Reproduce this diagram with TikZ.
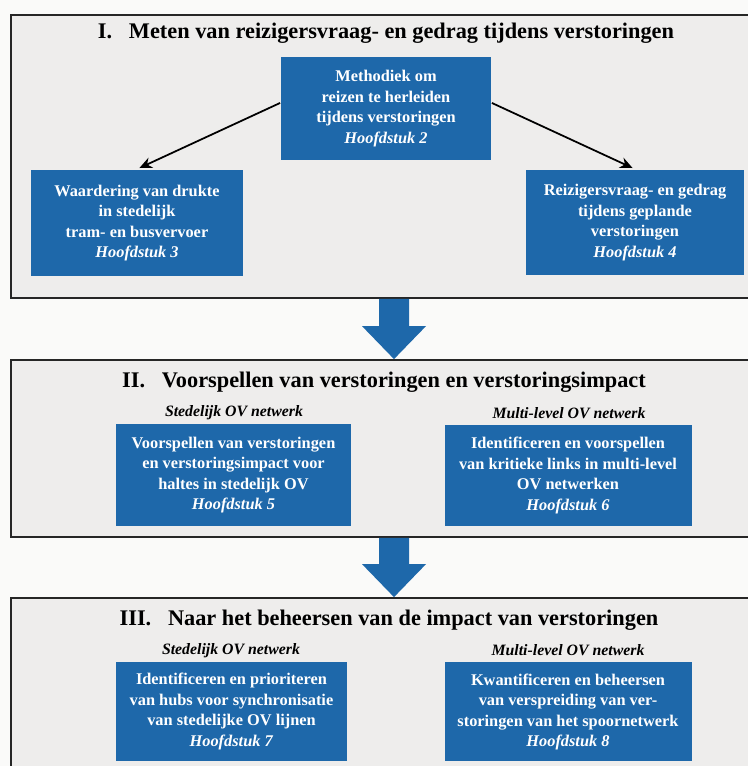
\documentclass[tikz,border=0pt]{standalone}
\usepackage{fontspec}
\setmainfont{Liberation Serif}
\usepackage{tikz}
\usetikzlibrary{positioning,arrows.meta}
\definecolor{ovblauw}{RGB}{30,104,170}
\definecolor{paneelgrijs}{RGB}{238,237,236}
\definecolor{achtergrond}{RGB}{250,250,249}

\begin{document}
\begin{tikzpicture}[line width=1pt, >={Stealth[length=2.5mm,width=2.2mm]},
        paneel/.style={draw=black!85, line width=1pt, fill=paneelgrijs, minimum width=15.32cm},
        hoofdstuk/.style={fill=ovblauw, text=white, align=center, inner sep=0pt, font=\bfseries\fontsize{9.3}{11.7}\selectfont},
        titel/.style={font=\bfseries\fontsize{12.7}{15}\selectfont},
        netwerk/.style={font=\bfseries\itshape\fontsize{9}{11}\selectfont}]
        % Uitsnede en achtergrond
        \useasboundingbox (0,0) rectangle (14.96,15.32);
        \clip (0,0) rectangle (14.96,15.32);
        \fill[achtergrond] (0,0) rectangle (14.96,15.32);

        % Panelen
        \node[paneel, minimum height=5.66cm] (p1) at (7.88,12.19) {};
        \node[paneel, minimum height=3.54cm] (p2) at (7.88,6.35) {};
        \node[paneel, minimum height=3.96cm] (p3) at (7.88,1.38) {};

        % Blokpijlen tussen de panelen
        \foreach \van/\naar in {p1/p2, p2/p3} {
            \fill[ovblauw] ([xshift=-0.3cm]\van.south) |- ([xshift=-0.64cm,yshift=0.66cm]\naar.north)
                -- (\naar.north) -- ([xshift=0.64cm,yshift=0.66cm]\naar.north)
                -| ([xshift=0.3cm]\van.south) -- cycle;
        }

        % I. Meten
        \node[titel] (t1) at (7.72,14.66) {I.\hspace{0.75em}Meten van reizigersvraag- en gedrag tijdens verstoringen};
        \node[hoofdstuk, minimum width=4.2cm, minimum height=2.06cm] (h2) at (7.72,13.15)
            {Methodiek om\\reizen te herleiden\\tijdens verstoringen\\\textit{Hoofdstuk 2}};
        \node[hoofdstuk, minimum width=4.24cm, minimum height=2.12cm] (h3) at (2.74,10.86)
            {Waardering van drukte\\in stedelijk\\tram- en busvervoer\\\textit{Hoofdstuk 3}};
        \node[hoofdstuk, minimum width=4.36cm, minimum height=2.1cm] (h4) at (12.7,10.87)
            {Reizigersvraag- en gedrag\\tijdens geplande\\verstoringen\\\textit{Hoofdstuk 4}};
        \draw[->, shorten >=1.5pt] (h2.177) -- (h3.north);
        \draw[->, shorten >=1.5pt] (h2.3) -- (h4.north);

        % II. Voorspellen
        \node[titel] (t2) at (7.68,7.68) {II.\hspace{0.75em}Voorspellen van verstoringen en verstoringsimpact};
        \node[netwerk] (n2a) at (4.68,7.06) {Stedelijk OV netwerk};
        \node[netwerk] (n2b) at (11.38,7.06) {Multi-level OV netwerk};
        \node[hoofdstuk, minimum width=4.7cm, minimum height=2.04cm] (h5) at (4.67,5.82)
            {Voorspellen van verstoringen\\en verstoringsimpact voor\\haltes in stedelijk OV\\\textit{Hoofdstuk 5}};
        \node[hoofdstuk, minimum width=4.94cm, minimum height=2.02cm] (h6) at (11.36,5.81)
            {Identificeren en voorspellen\\van kritieke links in multi-level\\OV netwerken\\\textit{Hoofdstuk 6}};

        % III. Beheersen
        \node[titel] (t3) at (7.78,2.92) {III.\hspace{0.75em}Naar het beheersen van de impact van verstoringen};
        \node[netwerk] (n3a) at (4.62,2.31) {Stedelijk OV netwerk};
        \node[netwerk] (n3b) at (11.36,2.31) {Multi-level OV netwerk};
        \node[hoofdstuk, minimum width=4.62cm, minimum height=1.96cm] (h7) at (4.63,1.09)
            {Identificeren en prioriteren\\van hubs voor synchronisatie\\van stedelijke OV lijnen\\\textit{Hoofdstuk 7}};
        \node[hoofdstuk, minimum width=4.94cm, minimum height=1.98cm] (h8) at (11.36,1.08)
            {Kwantificeren en beheersen\\van verspreiding van ver-\\storingen van het spoornetwerk\\\textit{Hoofdstuk 8}};
\end{tikzpicture}
\end{document}
